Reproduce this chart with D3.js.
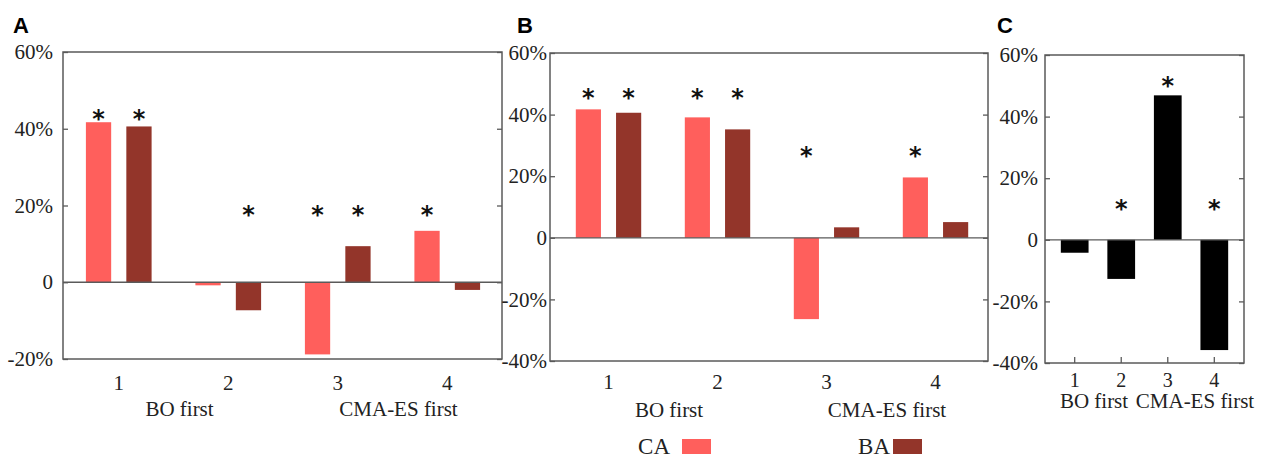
<!DOCTYPE html>
<html>
<head>
<meta charset="utf-8">
<script src="https://cdn.jsdelivr.net/npm/d3@7/dist/d3.min.js"></script>
<style>
  body { margin: 0; background: #fff; }
  svg { display: block; }
</style>
</head>
<body>
<svg id="chart"></svg>
<script>
// values (percent)
var groups = ["1", "2", "3", "4"];
var series = ["CA", "BA"];
var conditions = ["BO first", "CMA-ES first"];

var caA = [41.7, -0.8, -18.8, 13.4];
var baA = [40.6, -7.3, 9.4, -2.0];
var starsA = [[44, 44], [null, 19], [19, 19], [19, null]];

var caB = [41.7, 39.1, -26.4, 19.6];
var baB = [40.6, 35.2, 3.4, 5.1];
var starsB = [[47.4, 47.4], [47.4, 47.4], [28.5, null], [28.5, null]];

var valC = [-4.2, -12.7, 46.9, -35.8];
var starsC = [null, 12, 51.8, 12];

var ticksA = [-20, 0, 20, 40, 60];
var ticksBC = [-40, -20, 0, 20, 40, 60];

var colors = { CA: "#ff5f5c", BA: "#93352a" };
var lineCol = "#5a5a5a";
var serif = "'Liberation Serif', 'Times New Roman', serif";

var svg = d3.select("#chart").attr("width", 1266).attr("height", 459);

function pct(d) { return d === 0 ? "0" : d + "%"; }

function star(g, x, y) {
  // y is the visual centre of the asterisk
  g.append("text")
    .attr("x", x)
    .attr("y", y + 14)
    .attr("text-anchor", "middle")
    .style("font-family", "'DejaVu Sans', sans-serif")
    .style("font-size", "24px")
    .style("font-weight", "bold")
    .attr("fill", "#111")
    .text("*");
}

function frame(g, box, y, ticks, pad) {
  g.append("g")
    .attr("transform", "translate(" + box.left + ",0)")
    .call(d3.axisLeft(y).tickValues(ticks).tickFormat(pct).tickSize(-5).tickSizeOuter(0).tickPadding(pad))
    .call(function (a) {
      a.select(".domain").remove();
      a.selectAll("line").attr("stroke", lineCol).attr("stroke-width", 1.3);
      a.selectAll("text").style("font-family", serif).style("font-size", "21px").attr("fill", "#222");
    });
  g.append("g")
    .attr("transform", "translate(" + box.right + ",0)")
    .call(d3.axisRight(y).tickValues(ticks).tickFormat("").tickSize(-5).tickSizeOuter(0))
    .call(function (a) {
      a.select(".domain").remove();
      a.selectAll("line").attr("stroke", lineCol).attr("stroke-width", 1.3);
    });
  g.append("rect")
    .attr("x", box.left).attr("y", box.top)
    .attr("width", box.right - box.left).attr("height", box.bottom - box.top)
    .attr("fill", "none").attr("stroke", lineCol).attr("stroke-width", 1.5);
}

function groupedPanel(opt) {
  var g = svg.append("g");
  var box = opt.box;
  var y = d3.scaleLinear().domain(opt.yDomain).range([box.bottom, box.top]);
  var x0 = d3.scaleBand().domain(groups).range(opt.xRange).paddingInner(0.4).paddingOuter(0.2);
  var x1 = d3.scaleBand().domain(series).range([0, x0.bandwidth()]).paddingInner(0.375);

  var rows = groups.map(function (k, i) {
    return { group: k, CA: opt.ca[i], BA: opt.ba[i], stars: opt.stars[i] };
  });

  frame(g, box, y, opt.ticks, opt.pad);

  var grp = g.selectAll(".grp").data(rows).enter().append("g")
    .attr("transform", function (d) { return "translate(" + x0(d.group) + ",0)"; });

  grp.selectAll("rect").data(function (d) {
    return series.map(function (s) { return { key: s, value: d[s] }; });
  }).enter().append("rect")
    .attr("x", function (d) { return x1(d.key); })
    .attr("y", function (d) { return y(Math.max(0, d.value)); })
    .attr("width", x1.bandwidth())
    .attr("height", function (d) { return Math.abs(y(d.value) - y(0)); })
    .attr("fill", function (d) { return colors[d.key]; });

  rows.forEach(function (d) {
    d.stars.forEach(function (v, j) {
      if (v != null) star(g, x0(d.group) + x1(series[j]) + x1.bandwidth() / 2, y(v));
    });
  });

  g.append("line")
    .attr("x1", box.left).attr("x2", box.right)
    .attr("y1", y(0)).attr("y2", y(0))
    .attr("stroke", lineCol).attr("stroke-width", 1.3);

  // category numbers and condition labels
  g.selectAll(".xl").data(groups).enter().append("text")
    .attr("x", function (d) { return x0(d) + x0.bandwidth() / 2; })
    .attr("y", opt.numY)
    .attr("text-anchor", "middle")
    .style("font-family", serif).style("font-size", "21px").attr("fill", "#222")
    .text(function (d) { return d; });

  conditions.forEach(function (c, i) {
    var a = x0(groups[i * 2]) + x0.bandwidth() / 2;
    var b = x0(groups[i * 2 + 1]) + x0.bandwidth() / 2;
    g.append("text")
      .attr("x", (a + b) / 2 + 6)
      .attr("y", opt.condY)
      .attr("text-anchor", "middle")
      .style("font-family", serif).style("font-size", "21px").attr("fill", "#222")
      .text(c);
  });

  g.append("text")
    .attr("x", opt.label[0]).attr("y", opt.label[1])
    .style("font-family", "'Liberation Sans', Arial, sans-serif")
    .style("font-size", "22px").style("font-weight", "bold")
    .text(opt.name);
}

groupedPanel({
  name: "A", label: [13, 33],
  box: { left: 63, right: 502, top: 52, bottom: 359 },
  xRange: [64, 502], yDomain: [-20, 60], ticks: ticksA, pad: 10,
  ca: caA, ba: baA, stars: starsA, numY: 390, condY: 416
});

groupedPanel({
  name: "B", label: [517, 33],
  box: { left: 550, right: 988, top: 53, bottom: 361 },
  xRange: [554, 990], yDomain: [-40, 60], ticks: ticksBC, pad: 3,
  ca: caB, ba: baB, stars: starsB, numY: 389, condY: 417
});

// panel C: single series, black bars
(function () {
  var g = svg.append("g");
  var box = { left: 1045, right: 1244, top: 55, bottom: 363 };
  var y = d3.scaleLinear().domain([-40, 60]).range([box.bottom, box.top]);
  var x = d3.scaleBand().domain(groups).range([box.left, box.right]).paddingInner(0.404).paddingOuter(0.34);

  frame(g, box, y, ticksBC, 7);

  g.append("g")
    .attr("transform", "translate(0," + box.bottom + ")")
    .call(d3.axisBottom(x).tickSize(-6).tickSizeOuter(0).tickPadding(10))
    .call(function (a) {
      a.select(".domain").remove();
      a.selectAll("line").attr("stroke", lineCol).attr("stroke-width", 1.3);
      a.selectAll("text").remove();
    });

  g.selectAll(".bar").data(valC).enter().append("rect")
    .attr("x", function (d, i) { return x(groups[i]); })
    .attr("y", function (d) { return y(Math.max(0, d)); })
    .attr("width", x.bandwidth())
    .attr("height", function (d) { return Math.abs(y(d) - y(0)); })
    .attr("fill", "#000");

  starsC.forEach(function (v, i) {
    if (v != null) star(g, x(groups[i]) + x.bandwidth() / 2, y(v));
  });

  g.append("line")
    .attr("x1", box.left).attr("x2", box.right)
    .attr("y1", y(0)).attr("y2", y(0))
    .attr("stroke", lineCol).attr("stroke-width", 1.3);

  g.selectAll(".xl").data(groups).enter().append("text")
    .attr("x", function (d) { return x(d) + x.bandwidth() / 2; })
    .attr("y", 387)
    .attr("text-anchor", "middle")
    .style("font-family", serif).style("font-size", "20px").attr("fill", "#222")
    .text(function (d) { return d; });

  g.append("text")
    .attr("x", 1094).attr("y", 408).attr("text-anchor", "middle")
    .style("font-family", serif).style("font-size", "21px").attr("fill", "#222")
    .text(conditions[0]);
  g.append("text")
    .attr("x", 1195).attr("y", 408).attr("text-anchor", "middle")
    .style("font-family", serif).style("font-size", "21px").attr("fill", "#222")
    .text(conditions[1]);

  g.append("text")
    .attr("x", 997).attr("y", 33)
    .style("font-family", "'Liberation Sans', Arial, sans-serif")
    .style("font-size", "22px").style("font-weight", "bold")
    .text("C");
})();

// legend
var legend = svg.append("g");
[{ key: "CA", textEnd: 670, sx: 682 }, { key: "BA", textEnd: 890, sx: 893 }].forEach(function (l) {
  legend.append("text")
    .attr("x", l.textEnd).attr("y", 454).attr("text-anchor", "end")
    .style("font-family", serif).style("font-size", "23px").attr("fill", "#222")
    .text(l.key);
  legend.append("rect")
    .attr("x", l.sx).attr("y", 439).attr("width", 29).attr("height", 15)
    .attr("fill", colors[l.key]);
});
</script>
</body>
</html>
